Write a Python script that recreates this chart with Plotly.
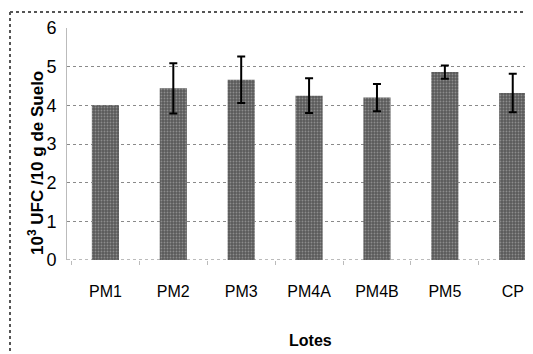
import plotly.graph_objects as go

categories = ["PM1", "PM2", "PM3", "PM4A", "PM4B", "PM5", "CP"]
values = [4.0, 4.44, 4.66, 4.25, 4.2, 4.86, 4.32]
errors = [None, 0.65, 0.6, 0.45, 0.35, 0.17, 0.5]
y_ticks = [0, 1, 2, 3, 4, 5, 6]

FONT = "Liberation Sans, Arial, sans-serif"

err_x = [c for c, e in zip(categories, errors) if e is not None]
err_y = [v for v, e in zip(values, errors) if e is not None]
err_v = [e for e in errors if e is not None]

# page is rendered with an 8px body margin; figure is sized to compensate
W, H = 525, 346
L, R, T, B = 59, 6, 20, 94
PW, PH = W - L - R, H - T - B

fig = go.Figure()
fig.add_trace(go.Bar(
    x=categories, y=values,
    width=0.4,
    marker=dict(color="#6f6f6f", line=dict(width=0),
                pattern=dict(shape=".", fgcolor="#bdbdbd", bgcolor="#5a5a5a", size=3, solidity=0.3)),
))
fig.add_trace(go.Scatter(
    x=err_x, y=err_y, mode="markers", marker=dict(size=0.1, color="black"),
    error_y=dict(type="data", array=err_v, visible=True, color="black", thickness=2, width=4),
    hoverinfo="skip",
))

fig.update_layout(
    width=W, height=H,
    margin=dict(l=L, r=R, t=T, b=B, autoexpand=False),
    paper_bgcolor="white", plot_bgcolor="white",
    font=dict(family=FONT, color="black", size=16),
    showlegend=False,
    xaxis=dict(range=[-0.566, 6.21], showgrid=False, showline=False, automargin=False,
               ticks="outside", tickson="boundaries", ticklen=4, tickcolor="#bbbbbb",
               ticklabelstandoff=20,
               tickfont=dict(size=16)),
    yaxis=dict(range=[0, 6], tickvals=y_ticks, showgrid=True, gridcolor="#8a8a8a", griddash="dot",
               gridwidth=1, zeroline=False, showline=True, linecolor="#bbbbbb", linewidth=1,
               automargin=False, ticks="", ticklabelstandoff=6,
               tickfont=dict(size=18)),
)
fig.add_annotation(text="<b>Lotes</b>",
                   xref="paper", yref="paper", x=(302 - L) / PW, y=1 - (332 - T) / PH,
                   xanchor="center", yanchor="middle", showarrow=False,
                   font=dict(size=16, family=FONT, color="black"))
fig.add_annotation(text="<b>10<sup>3</sup> UFC /10 g de Suelo</b>", textangle=-90,
                   xref="paper", yref="paper", x=(28 - L) / PW, y=1 - (155 - T) / PH,
                   xanchor="center", yanchor="middle", showarrow=False,
                   font=dict(size=17, family=FONT, color="black"))
fig.add_shape(type="line", xref="paper", yref="y", x0=0, x1=1, y0=0, y1=0,
              line=dict(color="#777777", width=1, dash="dot"))
# outer frame (left and top edges visible)
fx, fy = (2 - L) / PW, 1 - (4 - T) / PH
fig.add_shape(type="line", xref="paper", yref="paper",
              x0=fx, x1=fx, y0=fy, y1=-B / PH - 0.05,
              line=dict(color="#555555", width=2, dash="dot"))
fig.add_shape(type="line", xref="paper", yref="paper",
              x0=fx, x1=1 + R / PW + 0.05, y0=fy, y1=fy,
              line=dict(color="#555555", width=2, dash="dot"))

fig.write_html("out.html")
